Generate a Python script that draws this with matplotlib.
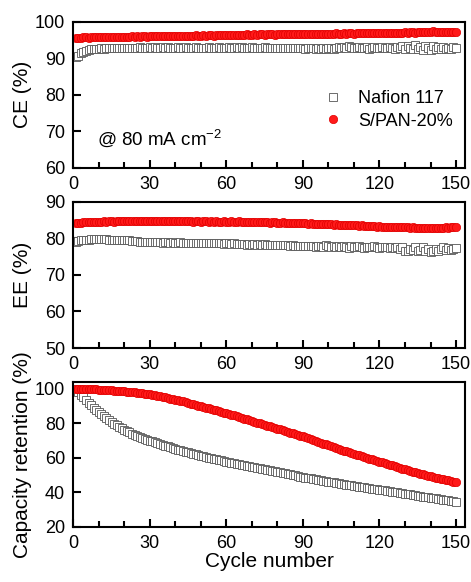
import numpy as np
import matplotlib.pyplot as plt
from matplotlib.ticker import MultipleLocator

plt.rcParams['font.family'] = ['Liberation Sans', 'DejaVu Sans']
plt.rcParams['mathtext.default'] = 'regular'

cycles = np.arange(1, 151)

# Coulombic efficiency (%)
ce_nafion = [
    90.4, 90.7, 91.3, 91.8, 92.1, 92.3, 92.4, 92.5, 92.6, 92.6,
    92.7, 92.6, 92.8, 92.7, 92.8, 92.7, 92.8, 92.9, 92.8, 92.8,
    92.9, 92.8, 92.9, 92.8, 92.9, 93.0, 92.9, 92.8, 92.9, 93.0,
    92.9, 93.0, 92.9, 92.9, 93.0, 92.9, 93.0, 92.9, 92.8, 92.9,
    93.0, 92.9, 92.9, 93.0, 92.9, 92.8, 92.9, 93.0, 92.9, 92.9,
    92.8, 92.9, 93.0, 92.9, 92.8, 92.9, 93.0, 92.9, 92.8, 92.9,
    93.0, 92.9, 92.9, 93.0, 92.9, 93.0, 92.9, 92.8, 92.9, 93.0,
    92.9, 92.8, 92.9, 92.9, 93.0, 92.8, 92.9, 92.8, 92.9, 92.8,
    92.9, 92.8, 92.7, 92.8, 92.9, 92.8, 92.7, 92.8, 92.9, 92.7,
    92.6, 92.8, 92.9, 92.7, 92.6, 92.8, 92.5, 92.9, 92.4, 92.7,
    92.9, 92.5, 92.8, 93.1, 92.7, 93.2, 92.9, 93.3, 93.0, 92.8,
    92.9, 93.1, 92.7, 92.9, 93.0, 92.6, 92.9, 93.1, 92.8, 92.9,
    93.0, 92.7, 92.9, 93.2, 92.8, 92.6, 93.0, 92.9, 93.3, 92.5,
    93.4, 92.8, 92.4, 93.5, 92.6, 93.2, 92.3, 93.4, 92.7, 92.2,
    93.3, 92.5, 93.0, 92.4, 93.1, 92.6, 92.9, 92.5, 93.0, 92.8,
]
ce_span = [
    95.5, 95.6, 95.6, 95.7, 95.7, 95.6, 95.7, 95.8, 95.7, 95.8,
    95.8, 95.9, 95.8, 95.8, 95.9, 95.8, 95.9, 95.8, 95.9, 95.9,
    95.8, 95.9, 96.0, 95.9, 96.0, 95.9, 96.0, 96.0, 95.9, 96.0,
    96.0, 96.1, 96.0, 96.0, 96.1, 96.0, 96.1, 96.1, 96.0, 96.1,
    96.1, 96.2, 96.1, 96.2, 96.1, 96.2, 96.2, 96.3, 96.2, 96.2,
    96.3, 96.2, 96.3, 96.3, 96.2, 96.3, 96.3, 96.4, 96.3, 96.3,
    96.4, 96.3, 96.4, 96.4, 96.3, 96.4, 96.4, 96.5, 96.4, 96.4,
    96.5, 96.4, 96.5, 96.5, 96.4, 96.5, 96.5, 96.6, 96.4, 96.5,
    96.5, 96.6, 96.5, 96.5, 96.6, 96.5, 96.6, 96.6, 96.5, 96.6,
    96.6, 96.7, 96.6, 96.6, 96.7, 96.6, 96.5, 96.6, 96.7, 96.6,
    96.7, 96.7, 96.8, 96.7, 96.7, 96.8, 96.7, 96.8, 96.8, 96.7,
    96.8, 96.8, 96.9, 96.8, 96.8, 96.9, 96.8, 96.9, 96.9, 96.8,
    96.9, 96.9, 97.0, 96.9, 96.9, 97.0, 96.9, 97.0, 97.0, 97.1,
    97.0, 97.1, 97.1, 97.0, 97.1, 97.2, 97.1, 97.2, 97.2, 97.3,
    97.4, 97.3, 97.2, 97.3, 97.2, 97.1, 97.2, 97.2, 97.1, 97.2,
]

# Energy efficiency (%)
ee_nafion = [
    79.1, 79.3, 79.4, 79.5, 79.6, 79.6, 79.7, 79.7, 79.8, 79.8,
    79.8, 79.7, 79.7, 79.6, 79.6, 79.5, 79.6, 79.5, 79.4, 79.5,
    79.4, 79.4, 79.3, 79.3, 79.2, 79.1, 79.1, 79.0, 79.0, 78.9,
    78.9, 79.0, 78.9, 78.9, 78.8, 78.9, 78.9, 78.8, 78.9, 78.8,
    78.8, 78.9, 78.8, 78.7, 78.8, 78.8, 78.7, 78.8, 78.7, 78.7,
    78.8, 78.7, 78.6, 78.7, 78.7, 78.6, 78.7, 78.6, 78.5, 78.6,
    78.6, 78.5, 78.6, 78.5, 78.4, 78.5, 78.4, 78.3, 78.4, 78.3,
    78.4, 78.3, 78.4, 78.3, 78.4, 78.3, 78.2, 78.3, 78.2, 78.3,
    78.2, 78.1, 78.2, 78.1, 78.0, 78.1, 78.0, 77.9, 78.0, 77.9,
    77.9, 78.0, 77.8, 77.9, 77.7, 78.0, 77.8, 77.6, 78.1, 77.9,
    77.7, 78.0, 77.6, 77.8, 77.5, 77.9, 77.7, 77.4, 77.8, 77.6,
    77.5, 77.8, 77.6, 77.4, 77.7, 77.6, 77.5, 77.8, 77.6, 77.4,
    77.7, 77.5, 77.6, 77.3, 77.7, 77.4, 77.6, 77.2, 77.5, 76.6,
    76.4, 77.2, 76.8, 77.5, 76.5, 76.9, 77.6, 76.6, 77.0, 76.3,
    76.5, 77.2, 76.4, 77.1, 77.6, 76.7, 77.3, 76.9, 77.2, 77.4,
]
ee_span = [
    84.2, 84.3, 84.3, 84.4, 84.4, 84.5, 84.4, 84.5, 84.5, 84.5,
    84.5, 84.6, 84.5, 84.6, 84.6, 84.5, 84.6, 84.6, 84.7, 84.6,
    84.6, 84.7, 84.6, 84.7, 84.7, 84.6, 84.7, 84.7, 84.6, 84.7,
    84.7, 84.6, 84.7, 84.7, 84.6, 84.7, 84.6, 84.7, 84.6, 84.6,
    84.7, 84.6, 84.6, 84.7, 84.6, 84.6, 84.5, 84.6, 84.6, 84.5,
    84.6, 84.6, 84.5, 84.6, 84.5, 84.6, 84.5, 84.5, 84.6, 84.5,
    84.5, 84.6, 84.5, 84.5, 84.6, 84.5, 84.4, 84.5, 84.5, 84.4,
    84.5, 84.4, 84.4, 84.5, 84.4, 84.4, 84.3, 84.4, 84.4, 84.3,
    84.3, 84.4, 84.3, 84.2, 84.3, 84.2, 84.2, 84.1, 84.2, 84.1,
    84.1, 84.0, 84.1, 84.0, 83.9, 84.0, 83.9, 83.9, 83.8, 83.9,
    83.8, 83.7, 83.8, 83.7, 83.6, 83.7, 83.6, 83.5, 83.6, 83.5,
    83.5, 83.4, 83.5, 83.4, 83.3, 83.4, 83.3, 83.3, 83.2, 83.3,
    83.2, 83.2, 83.1, 83.2, 83.1, 83.1, 83.0, 83.1, 83.0, 83.0,
    83.1, 82.9, 83.0, 82.9, 82.8, 82.9, 82.8, 82.7, 82.8, 82.7,
    82.7, 82.8, 82.9, 82.8, 82.9, 83.0, 82.9, 83.0, 83.0, 83.0,
]

# Capacity retention (%)
cr_nafion = [
    100.0, 98.3, 96.6, 95.0, 93.4, 91.9, 90.4, 89.0, 87.6, 86.3,
    85.1, 83.9, 82.8, 81.7, 80.7, 79.7, 78.8, 77.9, 77.0, 76.2,
    75.4, 74.7, 74.0, 73.3, 72.7, 72.1, 71.5, 70.9, 70.4, 69.9,
    69.4, 68.9, 68.4, 67.9, 67.4, 66.9, 66.5, 66.0, 65.6, 65.2,
    64.7, 64.3, 63.9, 63.5, 63.1, 62.7, 62.3, 61.9, 61.5, 61.2,
    60.8, 60.4, 60.1, 59.7, 59.4, 59.0, 58.7, 58.4, 58.0, 57.7,
    57.4, 57.1, 56.8, 56.5, 56.2, 55.9, 55.6, 55.3, 55.0, 54.7,
    54.4, 54.1, 53.8, 53.6, 53.3, 53.0, 52.7, 52.4, 52.1, 51.8,
    51.5, 51.2, 50.9, 50.6, 50.3, 50.0, 49.7, 49.4, 49.1, 48.8,
    48.5, 48.3, 48.0, 47.7, 47.5, 47.2, 46.9, 46.7, 46.4, 46.2,
    45.9, 45.7, 45.4, 45.2, 44.9, 44.7, 44.4, 44.2, 44.0, 43.7,
    43.5, 43.3, 43.0, 42.8, 42.6, 42.4, 42.1, 41.9, 41.7, 41.5,
    41.3, 41.0, 40.8, 40.6, 40.3, 40.1, 39.9, 39.6, 39.4, 39.2,
    38.9, 38.7, 38.5, 38.2, 38.0, 37.8, 37.5, 37.3, 37.1, 36.8,
    36.6, 36.4, 36.1, 35.9, 35.7, 35.4, 35.2, 35.0, 34.8, 34.6,
]
cr_span = [
    100.0, 100.0, 99.9, 99.9, 99.8, 99.8, 99.7, 99.7, 99.6, 99.5,
    99.4, 99.3, 99.2, 99.1, 99.0, 98.9, 98.8, 98.7, 98.5, 98.4,
    98.2, 98.1, 97.9, 97.8, 97.6, 97.4, 97.3, 97.1, 96.9, 96.7,
    96.4, 96.1, 95.8, 95.5, 95.2, 94.9, 94.5, 94.2, 93.9, 93.6,
    93.3, 92.9, 92.6, 92.2, 91.8, 91.4, 91.0, 90.6, 90.2, 89.8,
    89.4, 89.0, 88.6, 88.2, 87.8, 87.4, 87.0, 86.6, 86.2, 85.8,
    85.4, 84.9, 84.5, 84.0, 83.6, 83.1, 82.7, 82.2, 81.8, 81.3,
    80.9, 80.4, 80.0, 79.5, 79.1, 78.6, 78.2, 77.7, 77.3, 76.8,
    76.4, 75.9, 75.5, 75.0, 74.6, 74.1, 73.7, 73.2, 72.8, 72.3,
    71.8, 71.3, 70.8, 70.3, 69.8, 69.2, 68.7, 68.2, 67.7, 67.1,
    66.6, 66.1, 65.6, 65.0, 64.5, 64.0, 63.6, 63.1, 62.7, 62.2,
    61.8, 61.3, 60.9, 60.4, 60.0, 59.5, 59.1, 58.6, 58.2, 57.7,
    57.3, 56.8, 56.4, 55.9, 55.5, 55.0, 54.6, 54.1, 53.7, 53.2,
    52.8, 52.4, 51.9, 51.5, 51.0, 50.6, 50.3, 49.9, 49.6, 49.2,
    48.9, 48.5, 48.2, 47.9, 47.5, 47.2, 46.8, 46.5, 46.1, 45.8,
]

panels = [
    (ce_nafion, ce_span, 'CE (%)', (60, 100)),
    (ee_nafion, ee_span, 'EE (%)', (50, 90)),
    (cr_nafion, cr_span, 'Capacity retention (%)', (20, 104)),
]
tops = [0.9627, 0.6534, 0.3440]
bottoms = [0.7119, 0.4020, 0.0950]

fig = plt.figure(figsize=(4.71, 5.82), dpi=100)
axes = []
for (naf, spn, lab, yl), top, bot in zip(panels, tops, bottoms):
    ax = fig.add_axes([0.1556, bot, 0.8316, top - bot])
    ax.plot(cycles, naf, 's', ms=6, mfc='white', mec='#555555', mew=0.6,
            label='Nafion 117')
    ax.plot(cycles, spn, 'o', ms=6, mfc='#ff1a1a', mec='#e00000', mew=0.5,
            label='S/PAN-20%')
    ax.set_xlim(0, 153.5)
    ax.set_ylim(*yl)
    ax.xaxis.set_major_locator(MultipleLocator(30))
    ax.xaxis.set_minor_locator(MultipleLocator(10))
    ax.yaxis.set_major_locator(MultipleLocator(20 if yl[0] == 20 else 10))
    ax.tick_params(which='both', direction='in', top=False, right=False,
                   labelsize=13, width=1.5)
    ax.tick_params(which='major', length=6)
    ax.tick_params(which='minor', length=4)
    ax.tick_params(axis='x', pad=6)
    ax.tick_params(axis='y', pad=6)
    for s in ax.spines.values():
        s.set_linewidth(1.5)
    ax.set_ylabel(lab, fontsize=15)
    axes.append(ax)

for ax in axes:
    ax.yaxis.set_label_coords(-0.105, 0.5)

axes[2].set_xlabel('Cycle number', fontsize=15, labelpad=0)
axes[0].legend(loc='upper left', bbox_to_anchor=(0.635, 0.53), frameon=False,
               fontsize=13, handlelength=1.2, handletextpad=0.8,
               labelspacing=0.3, borderaxespad=0, borderpad=0)
axes[0].text(0.06, 0.2, '@ 80 mA cm$^{-2}$', transform=axes[0].transAxes,
             fontsize=13.5, va='center', ha='left')

fig.savefig('out.png', dpi=100)
